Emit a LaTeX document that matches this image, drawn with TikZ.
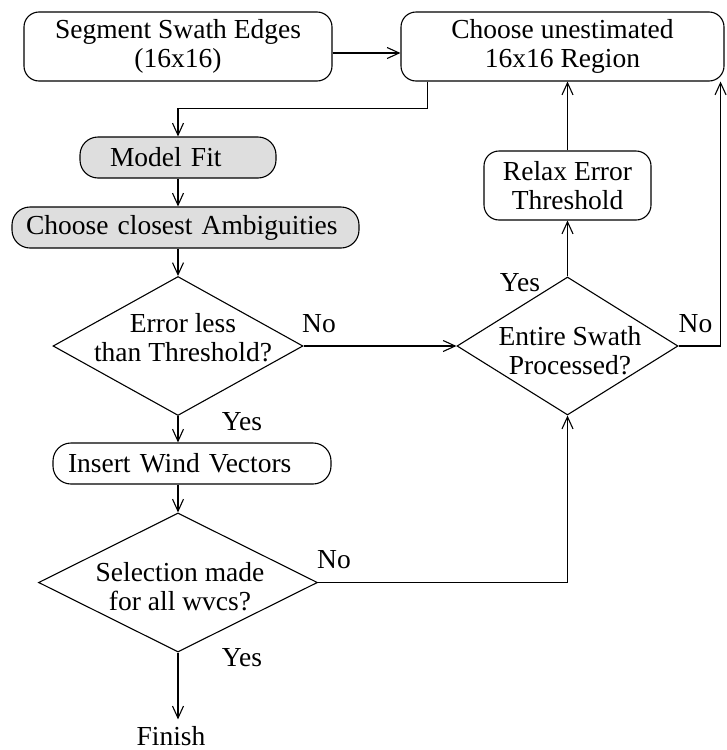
\documentclass[tikz,border=0pt]{standalone}
\usepackage{fontspec}
\setmainfont{Liberation Serif}
\usetikzlibrary{shapes.geometric,arrows.meta}
\begin{document}
\begin{tikzpicture}[x=1pt,y=-1pt,
  font=\fontsize{27.5}{29}\selectfont,
  line width=1.1pt,
  arr/.style={-{Straight Barb[length=12pt,width=11pt]}},
  rbox/.style={draw, rounded corners=15pt, inner sep=0pt, align=center},
  pbox/.style={draw, rounded corners=18pt, inner ysep=0pt, align=left},
  gray/.style={fill=black!13},
  dia/.style={draw, diamond, inner sep=0pt},
  lbl/.style={inner sep=0pt, align=center}
]
\useasboundingbox (0,0) rectangle (726,750);

% boxes
\node[rbox, minimum width=308pt, minimum height=69pt] (seg) at (178,46.5) {Segment Swath Edges\\(16x16)};
\node[rbox, minimum width=323pt, minimum height=69pt] (cho) at (562.5,46.5) {Choose unestimated\\16x16 Region};
\node[rbox, minimum width=167pt, minimum height=69pt] (rel) at (567.5,185.5) {Relax Error\\Threshold};
\node[pbox, gray, minimum height=41pt, inner xsep=30pt, text width=136pt] (fit) at (178,157.5) {Model Fit};
\node[pbox, gray, minimum height=41pt, inner xsep=14pt, text width=319pt] (amb) at (185.5,227.5) {Choose closest Ambiguities};
\node[pbox, minimum height=41pt, inner xsep=15pt, text width=248pt] (ins) at (192,463.5) {Insert Wind Vectors};

% diamonds
\node[dia, minimum width=250pt, minimum height=139pt] (d1) at (178,346) {};
\node[dia, minimum width=221pt, minimum height=138pt] (d2) at (567.5,346) {};
\node[dia, minimum width=279pt, minimum height=139pt] (d3) at (178,582.5) {};
\node[lbl] (t1) at (183,338) {Error less\\than Threshold?};
\node[lbl] (t2) at (570,351) {Entire Swath\\Processed?};
\node[lbl] (t3) at (180,587) {Selection made\\for all wvcs?};

% labels
\node[lbl] (no1) at (319,324) {No};
\node[lbl] (yes1) at (242,422) {Yes};
\node[lbl] (yes2) at (520,283) {Yes};
\node[lbl] (no2) at (695.5,324) {No};
\node[lbl] (no3) at (334,560) {No};
\node[lbl] (yes3) at (242,658) {Yes};
\node[lbl, anchor=base] (fin) at (171,745) {Finish};

% connectors
\draw[arr] ([yshift=-6.5pt]seg.east) -- ([yshift=-6.5pt]cho.west);
\draw[arr] ([xshift=27pt]cho.south west) -- ++(0,27) -| (fit.north);
\draw[arr] (fit.south) -- (fit.south |- amb.north);
\draw[arr] (amb.south -| d1.north) -- (d1.north);
\draw[arr] (d1.east) -- (d2.west);
\draw[arr] (d1.south) -- (d1.south |- ins.north);
\draw[arr] (ins.south -| d3.north) -- (d3.north);
\draw[arr] (d3.south) -- ([yshift=6pt]d3.south |- fin.north);
\draw[arr] (d3.east) -| (d2.south);
\draw[arr] (d2.north) -- (rel.south);
\draw[arr] (rel.north) -- (rel.north |- cho.south);
\draw[arr] (d2.east) -| ([xshift=-4pt]cho.south east);
\end{tikzpicture}
\end{document}
